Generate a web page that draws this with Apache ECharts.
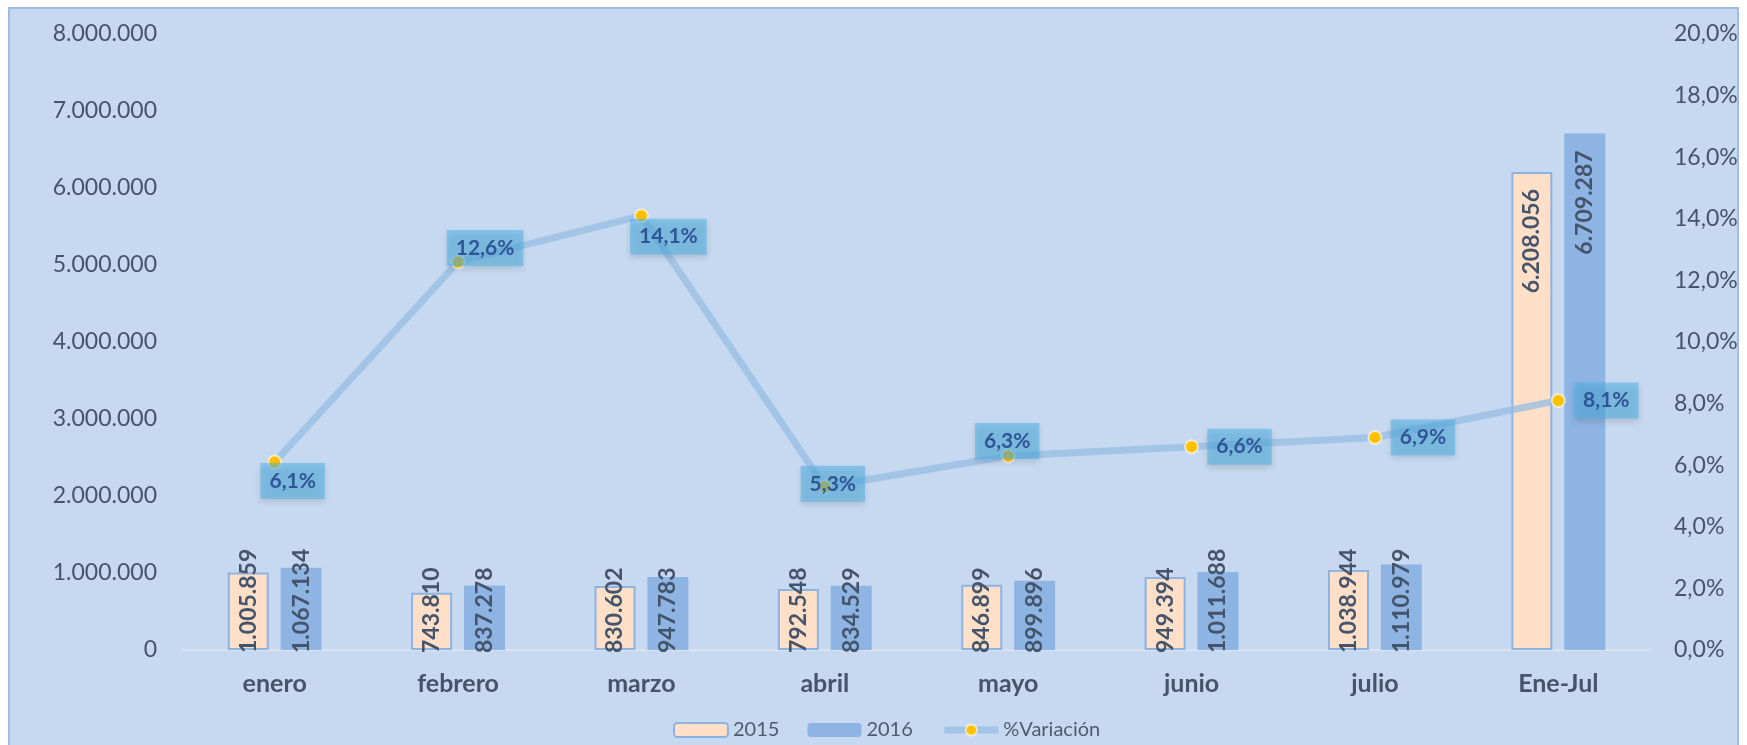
<!DOCTYPE html>
<html>
<head>
<meta charset="utf-8">
<script src="https://cdn.jsdelivr.net/npm/echarts@6/dist/echarts.min.js"></script>
<style>
    html, body { margin: 0; padding: 0; background: #ffffff; }
    #Panel {
        position: absolute; left: 8px; top: 7px; width: 1731px; height: 745px;
        background: #C6D9F0; border: 2px solid #9DBDE6; box-sizing: border-box;
    }
    #Root { position: absolute; left: 0; top: 0; width: 1747px; height: 745px; }
</style>
</head>
<body>
<div id="Panel"></div>
<div id="Root"></div>
<script>
// datos
let Categories = ['enero', 'febrero', 'marzo', 'abril', 'mayo', 'junio', 'julio', 'Ene-Jul']
let Values2015 = [1005859, 743810, 830602, 792548, 846899, 949394, 1038944, 6208056]
let Values2016 = [1067134, 837278, 947783, 834529, 899896, 1011688, 1110979, 6709287]
let Variacion = [6.1, 12.6, 14.1, 5.3, 6.3, 6.6, 6.9, 8.1]

// posicion de las etiquetas de %Variacion respecto al punto
let VarLabelOffsets = [[18, 19], [27, -14], [27, 21], [8, -3], [-1, -15], [48, 0], [48, 0], [48, 0]]

const FONT = 'Lato'
const TEXT_COLOR = '#44546A'
const LINE_COLOR = 'rgba(150,190,228,0.75)'

function FormatMiles(v) {
    return String(v).replace(/\B(?=(\d{3})+(?!\d))/g, '.')
}
function FormatPct(v) {
    return v.toFixed(1).replace('.', ',') + '%'
}

function BarLabel() {
    return {
        show: true,
        rotate: 90,
        position: 'insideBottom',
        distance: -3,
        align: 'left',
        verticalAlign: 'middle',
        fontFamily: FONT,
        fontWeight: 'bold',
        fontSize: 23,
        color: TEXT_COLOR,
        formatter: p => FormatMiles(p.value)
    }
}

function BarData(values) {
    return values.map((v, i) => {
        if (i == values.length - 1) {
            // la barra grande lleva la etiqueta arriba por dentro
            return {
                value: v,
                label: { position: 'insideTop', align: 'right', distance: 17 }
            }
        }
        return v
    })
}

let VarData = Variacion.map((v, i) => ({
    value: v,
    label: { offset: VarLabelOffsets[i] }
}))

let MyChart = echarts.init(document.getElementById('Root'))

MyChart.setOption({
    backgroundColor: 'transparent',
    animation: false,
    textStyle: { fontFamily: FONT },
    grid: { left: 183, right: 97, top: 34, bottom: 95 },
    legend: {
        left: 668,
        top: 715,
        itemWidth: 54,
        itemHeight: 14,
        itemGap: 28,
        textStyle: { fontFamily: FONT, fontSize: 20, color: '#4D5B70' },
        data: [
            '2015',
            '2016',
            {
                name: '%Variación',
                lineStyle: { width: 7, color: LINE_COLOR },
                itemStyle: { color: '#FFC000', borderColor: 'rgba(255,255,255,0.6)', borderWidth: 2 }
            }
        ]
    },
    xAxis: {
        type: 'category',
        data: Categories,
        axisLine: { lineStyle: { color: '#DCE3EC', width: 2 } },
        axisTick: { show: false },
        axisLabel: {
            margin: 21,
            fontFamily: FONT,
            fontWeight: 'bold',
            fontSize: 25,
            color: TEXT_COLOR
        }
    },
    yAxis: [
        {
            type: 'value',
            min: 0,
            max: 8000000,
            interval: 1000000,
            splitLine: { show: false },
            axisLine: { show: false },
            axisLabel: {
                margin: 26,
                fontFamily: FONT,
                fontSize: 23,
                color: TEXT_COLOR,
                formatter: v => FormatMiles(v)
            }
        },
        {
            type: 'value',
            min: 0,
            max: 20,
            interval: 2,
            splitLine: { show: false },
            axisLine: { show: false },
            axisLabel: {
                margin: 24,
                fontFamily: FONT,
                fontSize: 23,
                color: TEXT_COLOR,
                formatter: v => FormatPct(v)
            }
        }
    ],
    series: [
        {
            name: '2015',
            type: 'bar',
            barWidth: 41,
            barGap: '29%',
            itemStyle: { color: '#FFDFC8', borderColor: '#8DB3E2', borderWidth: 2 },
            label: BarLabel(),
            data: BarData(Values2015)
        },
        {
            name: '2016',
            type: 'bar',
            barWidth: 41,
            barGap: '29%',
            itemStyle: { color: '#8EB4E3' },
            label: BarLabel(),
            data: BarData(Values2016)
        },
        {
            name: '%Variación',
            type: 'line',
            yAxisIndex: 1,
            z: 5,
            symbol: 'circle',
            symbolSize: 13,
            lineStyle: { color: LINE_COLOR, width: 7 },
            itemStyle: { color: '#FFC000', borderColor: 'rgba(255,255,255,0.6)', borderWidth: 2 },
            label: {
                show: true,
                position: 'inside',
                fontFamily: FONT,
                fontWeight: 'bold',
                fontSize: 21,
                color: '#2F5597',
                backgroundColor: 'rgba(80,176,230,0.55)',
                padding: [8, 9, 7, 9],
                shadowColor: 'rgba(0,0,0,0.22)',
                shadowBlur: 6,
                shadowOffsetY: 3,
                formatter: p => FormatPct(p.value)
            },
            data: VarData
        }
    ]
})
</script>
</body>
</html>
